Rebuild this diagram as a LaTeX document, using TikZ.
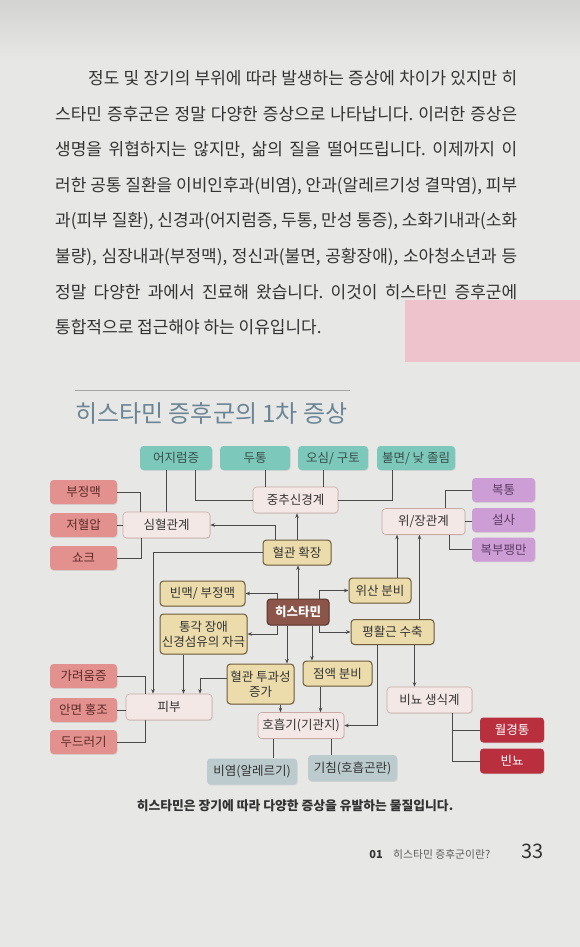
\documentclass[tikz,border=0pt]{standalone}
\usepackage{fontspec}
\setmainfont{Noto Sans CJK KR}
\usetikzlibrary{arrows.meta, positioning, shadows}
\usepackage{xcolor}
\frenchspacing

\definecolor{page}{HTML}{E7E7E5}
\definecolor{pagetop}{HTML}{D3D3D1}
\definecolor{ink}{HTML}{333333}
\definecolor{note}{HTML}{EEC3CB}
\definecolor{titleblue}{HTML}{6A8596}
\definecolor{teal1}{HTML}{7CC9BB}
\definecolor{tealtxt}{HTML}{3B4D49}
\definecolor{red1}{HTML}{E3918E}
\definecolor{redtxt}{HTML}{5B2B28}
\definecolor{sys}{HTML}{F4E8E6}
\definecolor{sysline}{HTML}{CBA9A4}
\definecolor{tan1}{HTML}{ECDCAB}
\definecolor{tanline}{HTML}{6E5B3C}
\definecolor{hist}{HTML}{8B5549}
\definecolor{histline}{HTML}{5A352C}
\definecolor{purp}{HTML}{CD9ED6}
\definecolor{purptxt}{HTML}{5C3B63}
\definecolor{wine1}{HTML}{B92F3D}
\definecolor{gray1}{HTML}{BCCBCD}
\definecolor{lin}{HTML}{4A4A4A}

\begin{document}
\begin{tikzpicture}[x=1pt, y=-1pt, >={Stealth[length=4.5pt, width=3.6pt]}, font=\fontsize{12.5}{15}\selectfont]
	\tikzstyle{box} = [rounded corners=3.5pt, align=center, inner sep=1pt, minimum height=24pt, drop shadow={opacity=0.18, shadow xshift=0.7pt, shadow yshift=-0.9pt}]
	\tikzstyle{tealbox} = [box, fill=teal1, text=tealtxt]
	\tikzstyle{redbox} = [box, fill=red1, text=redtxt, minimum width=67pt]
	\tikzstyle{sysbox} = [box, fill=sys, draw=sysline, line width=0.6pt, text=ink, minimum height=26pt]
	\tikzstyle{mechbox} = [box, fill=tan1, draw=tanline, line width=1pt, text=ink, minimum height=25pt]
	\tikzstyle{histbox} = [box, fill=hist, draw=histline, line width=1pt, text=white, minimum height=26pt, font=\fontsize{12.5}{15}\selectfont\bfseries]
	\tikzstyle{purplebox} = [box, fill=purp, text=purptxt, minimum width=63pt]
	\tikzstyle{winebox} = [box, fill=wine1, text=white, minimum width=64pt, minimum height=25pt]
	\tikzstyle{graybox} = [box, fill=gray1, text=ink, minimum height=26pt]
	\tikzstyle{para} = [inner sep=0pt, anchor=west, text=ink, font=\fontsize{17}{20}\selectfont]
	\tikzstyle{link} = [draw=lin, line width=0.7pt]
	\tikzstyle{arrow} = [link, ->]

	% page
	\useasboundingbox (0, 0) rectangle (580, 947);
	\fill[page] (0, 0) rectangle (580, 947);
	\shade[top color=pagetop, bottom color=page] (0, 0) rectangle (580, 60);
	\fill[note] (405, 300) rectangle (580, 362);

	% text above
	\node[para] at (88, 78)		(p1)	{\makebox[429pt][s]{정도 및 장기의 부위에 따라 발생하는 증상에 차이가 있지만 히}};
	\node[para] at (55, 114)	(p2)	{\makebox[462pt][s]{스타민 증후군은 정말 다양한 증상으로 나타납니다. 이러한 증상은}};
	\node[para] at (55, 150)	(p3)	{\makebox[462pt][s]{생명을 위협하지는 않지만, 삶의 질을 떨어뜨립니다. 이제까지 이}};
	\node[para] at (55, 186)	(p4)	{\makebox[462pt][s]{러한 공통 질환을 이비인후과(비염), 안과(알레르기성 결막염), 피부}};
	\node[para] at (55, 221)	(p5)	{\makebox[462pt][s]{과(피부 질환), 신경과(어지럼증, 두통, 만성 통증), 소화기내과(소화}};
	\node[para] at (55, 257)	(p6)	{\makebox[462pt][s]{불량), 심장내과(부정맥), 정신과(불면, 공황장애), 소아청소년과 등}};
	\node[para] at (55, 292)	(p7)	{\makebox[462pt][s]{정말 다양한 과에서 진료해 왔습니다. 이것이 히스타민 증후군에}};
	\node[para] at (55, 327)	(p8)	{통합적으로 접근해야 하는 이유입니다.};

	% title
	\draw[draw=gray!70, line width=0.6pt] (75, 390) -- (350, 390);
	\node[anchor=west, inner sep=0pt, text=titleblue, font=\fontsize{24}{27}\selectfont] at (75, 413) (title) {히스타민 증후군의 1차 증상};

	% symptoms on top
	\node[tealbox, minimum width=72pt]	at (176, 458)	(diz)	{어지럼증};
	\node[tealbox, minimum width=70pt]	at (255, 458)	(head)	{두통};
	\node[tealbox, minimum width=70pt]	at (333, 458)	(naus)	{오심/ 구토};
	\node[tealbox, minimum width=78pt]	at (416, 458)	(insom)	{불면/ 낮 졸림};

	\node[redbox]	at (83.5, 492)	(arr)	{부정맥};
	\node[redbox]	at (83.5, 525)	(hypo)	{저혈압};
	\node[redbox]	at (83.5, 558)	(shock)	{쇼크};
	\node[redbox]	at (83.5, 676)	(itch)	{가려움증};
	\node[redbox]	at (83.5, 710)	(flush)	{안면 홍조};
	\node[redbox]	at (83.5, 742)	(hives)	{두드러기};

	\node[purplebox]	at (503.5, 490)	(ache)	{복통};
	\node[purplebox]	at (503.5, 520)	(diar)	{설사};
	\node[purplebox]	at (503.5, 549.5)	(bloat)	{복부팽만};

	\node[winebox]	at (512, 730)	(cramp)	{월경통};
	\node[winebox]	at (512, 761)	(freq)	{빈뇨};

	\node[graybox, minimum width=90pt]	at (252, 771.5)	(rhin)	{비염(알레르기)};
	\node[graybox, minimum width=89pt]	at (352.5, 768)	(cough)	{기침(호흡곤란)};

	% organ systems
	\node[sysbox, minimum width=87pt]	at (166.5, 525)	(cardio)	{심혈관계};
	\node[sysbox, minimum width=85pt]	at (295.5, 500)	(cns)	{중추신경계};
	\node[sysbox, minimum width=83pt]	at (423.5, 521.5)	(gi)	{위/장관계};
	\node[sysbox, minimum width=86pt]	at (169, 707)	(skin)	{피부};
	\node[sysbox, minimum width=86pt]	at (301, 725.5)	(resp)	{호흡기(기관지)};
	\node[sysbox, minimum width=85pt]	at (429.5, 700)	(uro)	{비뇨 생식계};

	% effects
	\node[histbox, minimum width=62pt]	at (298, 612)	(hst)	{히스타민};
	\node[mechbox, minimum width=68pt]	at (297, 552.5)	(vaso)	{혈관 확장};
	\node[mechbox, minimum width=85pt]	at (202.5, 593.5)	(tachy)	{빈맥/ 부정맥};
	\node[mechbox, minimum width=87pt, minimum height=40pt]	at (203.5, 634)	(nerve)	{통각 장애\\신경섬유의 자극};
	\node[mechbox, minimum width=62pt]	at (380, 590.5)	(acid)	{위산 분비};
	\node[mechbox, minimum width=83pt]	at (392.5, 632)	(smooth)	{평활근 수축};
	\node[mechbox, minimum width=67pt, minimum height=40pt]	at (260.5, 684)	(perm)	{혈관 투과성\\증가};
	\node[mechbox, minimum width=69pt]	at (337.5, 673.5)	(mucus)	{점액 분비};

	% connectors
	\draw [link]	(cardio.north) -- (cardio.north |- diz.south);
	\draw [link]	([xshift=19pt]diz.south) |- (cns.west);
	\draw [link]	([xshift=10pt]head.south) -- ([xshift=10pt]head.south |- cns.north);
	\draw [link]	([xshift=-10pt]naus.south) -- ([xshift=-10pt]naus.south |- cns.north);
	\draw [link]	([xshift=-24pt]insom.south) |- (cns.east);

	\draw [link]	(arr.east) -| ([xshift=-26pt]cardio.north);
	\draw [link]	(hypo.east) -- (hypo.east -| cardio.west);
	\draw [link]	(shock.east) -| ([xshift=-25pt]cardio.south);

	\draw [link]	([xshift=22pt]gi.north) |- (ache.west);
	\draw [link]	(gi.east) -- (gi.east -| diar.west);
	\draw [link]	([xshift=26pt]gi.south) |- (bloat.west);

	\draw [link]	(itch.east) -| ([xshift=-24pt]skin.north);
	\draw [link]	(flush.east) -- (flush.east -| skin.west);
	\draw [link]	(hives.east) -| ([xshift=-24pt]skin.south);

	\draw [link]	([xshift=-28pt]resp.south) -- ([xshift=-28pt]resp.south |- rhin.north);
	\draw [link]	([xshift=30pt]resp.south) -- ([xshift=30pt]resp.south |- cough.north);
	\draw [link]	([xshift=23pt]uro.south) |- (cramp.west);
	\draw [link]	([xshift=23pt]uro.south) |- (freq.west);

	\draw [arrow]	(hst.north) -- (hst.north |- vaso.south);
	\draw [arrow]	([xshift=-21pt]hst.north) |- (tachy.east);
	\draw [arrow]	([xshift=-21pt]hst.south) |- (nerve.east);
	\draw [arrow]	([xshift=21pt]hst.north) |- (acid.west);
	\draw [arrow]	([xshift=21pt]hst.south) |- (smooth.west);
	\draw [arrow]	([xshift=-11pt]hst.south) -- ([xshift=-11pt]hst.south |- perm.north);
	\draw [arrow]	([xshift=14pt]hst.south) -- ([xshift=14pt]hst.south |- mucus.north);

	\draw [arrow]	([xshift=-22pt]vaso.north) |- (cardio.east);
	\draw [arrow]	(vaso.north) -- (vaso.north |- cns.south);
	\draw [arrow]	(vaso.west) -| ([xshift=-16pt]skin.north);

	\draw [arrow]	([xshift=-20pt]nerve.south) -- ([xshift=-20pt]nerve.south |- skin.north);
	\draw [arrow]	([yshift=6pt]perm.west) -| ([xshift=31pt]skin.north);
	\draw [arrow]	([xshift=20pt]perm.south) -- ([xshift=20pt]perm.south |- resp.north);
	\draw [arrow]	([xshift=-17pt]mucus.south) -- ([xshift=-17pt]mucus.south |- resp.north);

	\draw [arrow]	([xshift=17pt]acid.north) -- ([xshift=17pt]acid.north |- gi.south);
	\draw [arrow]	([xshift=27pt]smooth.north) -- ([xshift=27pt]smooth.north |- gi.south);
	\draw [arrow]	([xshift=22pt]smooth.south) -- ([xshift=22pt]smooth.south |- uro.north);
	\draw [arrow]	([xshift=-15pt]smooth.south) |- (resp.east);

	% caption and footer
	\node[inner sep=0pt, text=ink, font=\fontsize{12.8}{15}\selectfont\bfseries] at (295, 806) (cap) {히스타민은 장기에 따라 다양한 증상을 유발하는 물질입니다.};
	\node[anchor=east, inner sep=0pt, text=ink, font=\fontsize{11}{13}\selectfont\bfseries] at (383, 854) (chap) {01};
	\node[anchor=west, inner sep=0pt, text=ink!80, font=\fontsize{10.8}{13}\selectfont] at (393, 854) (chapname) {히스타민 증후군이란?};
	\node[anchor=east, inner sep=0pt, text=ink, font=\fontsize{20}{22}\selectfont] at (544, 851) (pg) {33};
\end{tikzpicture}
\end{document}
